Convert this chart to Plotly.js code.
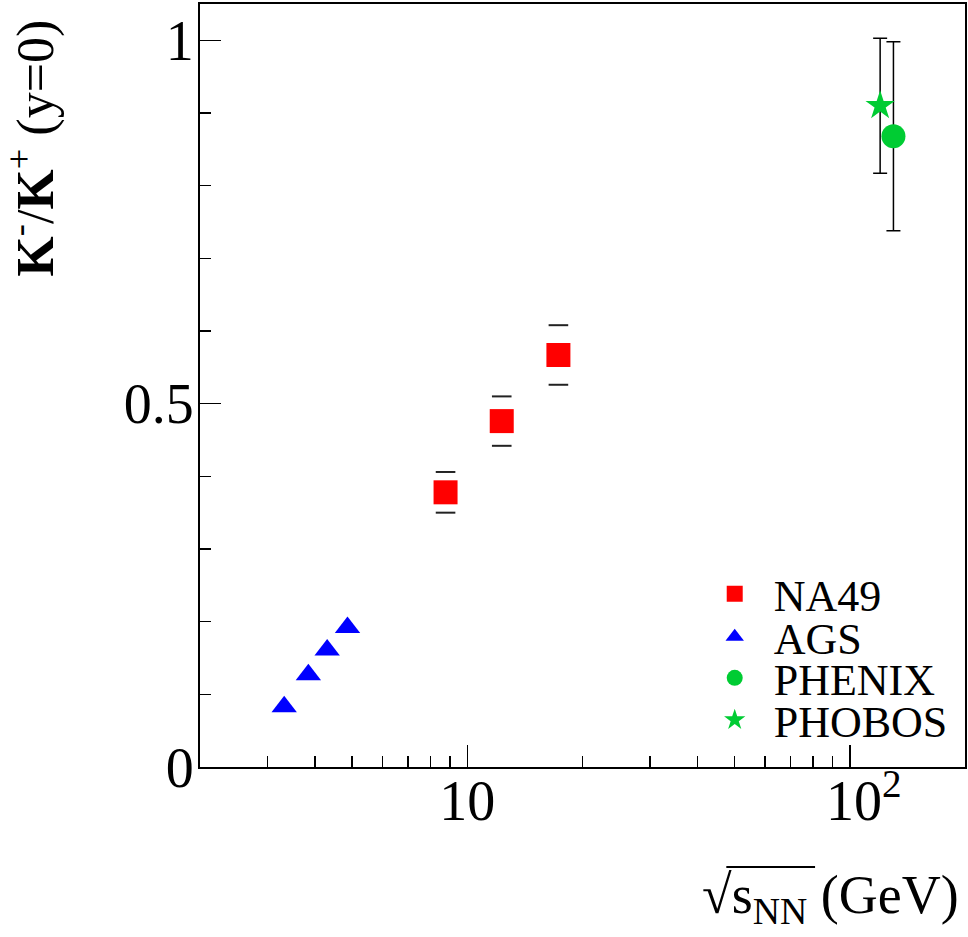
<!DOCTYPE html>
<html>
<head>
<meta charset="utf-8">
<script src="https://cdn.plot.ly/plotly-3.0.1.min.js"></script>
<style>
  body { margin: 0; background: white; }
  #plot { width: 968px; height: 937px; }
</style>
</head>
<body>
<div id="plot"></div>
<script>
// K-/K+ ratio at mid-rapidity versus collision energy

// NA49 (SPS)
const na49X = [8.77, 12.3, 17.3];
const na49Y = [0.378, 0.476, 0.567];
const na49Err = [0.028, 0.034, 0.041];

// AGS
const agsX = [3.32, 3.84, 4.30, 4.86];
const agsY = [0.083, 0.127, 0.161, 0.192];

// RHIC
const phenixX = [130];
const phenixY = [0.868];
const phenixErr = [0.13];

const phobosX = [120];
const phobosY = [0.91];
const phobosErr = [0.093];

// axis ticks (the en space keeps "10" of 10^2 centred on its tick, as in ROOT)
const xTickVals = [10, 100];
const xTickText = ['10', '\u200210<sup>2</sup>'];
const xMinorVals = [3, 4, 5, 6, 7, 8, 9, 20, 30, 40, 50, 60, 70, 80, 90];
const yTickVals = [0, 0.5, 1];
const yTickText = ['0', '0.5', '1'];
const yMinorVals = [0.1, 0.2, 0.3, 0.4, 0.6, 0.7, 0.8, 0.9];

const serif = '"Liberation Serif", "Times New Roman", serif';
const green = '#00cc33';

const errStyle = {
    type: 'data',
    visible: true,
    color: 'black',
    thickness: 1.5,
    width: 7
};

const traceNA49 = {
    x: na49X,
    y: na49Y,
    type: 'scatter',
    mode: 'markers',
    name: 'NA49',
    legend: 'legend',
    marker: { symbol: 'square', size: 24, color: '#ff0000' }
};

// only the caps of the NA49 errors are drawn, no stems
const traceNA49Caps = {
    x: na49X.concat(na49X),
    y: na49Y.map((v, i) => v + na49Err[i]).concat(na49Y.map((v, i) => v - na49Err[i])),
    type: 'scatter',
    mode: 'markers',
    marker: { symbol: 'line-ew', size: 14, line: { width: 2, color: '#222' } },
    showlegend: false,
    hoverinfo: 'skip'
};

const traceAGS = {
    x: agsX,
    y: agsY,
    type: 'scatter',
    mode: 'markers',
    name: 'AGS',
    legend: 'legend2',
    marker: { symbol: 'triangle-up', size: 22, color: '#0000ff' }
};

const tracePHENIX = {
    x: phenixX,
    y: phenixY,
    type: 'scatter',
    mode: 'markers',
    name: 'PHENIX',
    legend: 'legend3',
    marker: { symbol: 'circle', size: 24, color: green },
    error_y: Object.assign({ array: phenixErr }, errStyle)
};

const tracePHOBOS = {
    x: phobosX,
    y: phobosY,
    type: 'scatter',
    mode: 'markers',
    name: 'PHOBOS',
    legend: 'legend4',
    marker: { symbol: 'star', size: 22, color: green },
    error_y: Object.assign({ array: phobosErr }, errStyle)
};

// one small legend per entry so the rows can sit as tight as in the original
function legendBox (y) {
    return {
        x: 0.648,
        xanchor: 'left',
        y: y,
        yanchor: 'middle',
        bgcolor: 'rgba(0,0,0,0)',
        borderwidth: 0,
        font: { family: serif, size: 44 },
        itemwidth: 68,
        itemsizing: 'trace'
    };
}

const layout = {
    width: 968,
    height: 937,
    margin: { l: 200, r: 3, t: 4, b: 170 },
    paper_bgcolor: 'white',
    plot_bgcolor: 'white',
    showlegend: true,
    font: { family: serif, color: 'black' },
    xaxis: {
        type: 'log',
        range: [Math.log10(2), Math.log10(200)],
        tickmode: 'array',
        tickvals: xTickVals,
        ticktext: xTickText,
        ticks: 'inside',
        ticklen: 22,
        tickwidth: 1.5,
        tickcolor: 'black',
        tickfont: { family: serif, size: 56 },
        ticklabelstandoff: -16,
        minor: {
            tickmode: 'array',
            tickvals: xMinorVals,
            ticks: 'inside',
            ticklen: 11,
            tickwidth: 1.5,
            tickcolor: 'black'
        },
        showline: true,
        linewidth: 2,
        linecolor: 'black',
        mirror: true,
        showgrid: false,
        zeroline: false
    },
    yaxis: {
        range: [0, 1.05],
        tickmode: 'array',
        tickvals: yTickVals,
        ticktext: yTickText,
        ticks: 'inside',
        ticklen: 21,
        tickwidth: 1.5,
        tickcolor: 'black',
        tickfont: { family: serif, size: 56 },
        ticklabelstandoff: -7,
        minor: {
            tickmode: 'array',
            tickvals: yMinorVals,
            ticks: 'inside',
            ticklen: 11,
            tickwidth: 1.5,
            tickcolor: 'black'
        },
        showline: true,
        linewidth: 2,
        linecolor: 'black',
        mirror: true,
        showgrid: false,
        zeroline: false
    },
    legend: legendBox(0.2264),
    legend2: legendBox(0.1701),
    legend3: legendBox(0.1163),
    legend4: legendBox(0.0613),
    annotations: [
        {
            // y-axis title, placed at the top end like ROOT does
            text: '<b>K</b><sup>-</sup>/<b>K</b><sup>+</sup> (y=0)',
            xref: 'paper', yref: 'paper',
            x: -0.219, y: 0.811,
            xanchor: 'center', yanchor: 'middle',
            textangle: -90,
            showarrow: false,
            font: { family: serif, size: 52 }
        },
        {
            // x-axis title, right aligned under the axis
            text: '√s<sub>NN</sub> (GeV)',
            xref: 'paper', yref: 'paper',
            x: 0.995, y: -0.172,
            xanchor: 'right', yanchor: 'middle',
            showarrow: false,
            font: { family: serif, size: 54 }
        }
    ],
    shapes: [
        {
            // overline of the square root
            type: 'line',
            xref: 'paper', yref: 'paper',
            x0: 0.688, x1: 0.804, y0: -0.131, y1: -0.131,
            line: { color: 'black', width: 2 }
        }
    ]
};

Plotly.newPlot('plot', [traceNA49, traceNA49Caps, traceAGS, tracePHENIX, tracePHOBOS], layout, { displayModeBar: false, staticPlot: true });
</script>
</body>
</html>
